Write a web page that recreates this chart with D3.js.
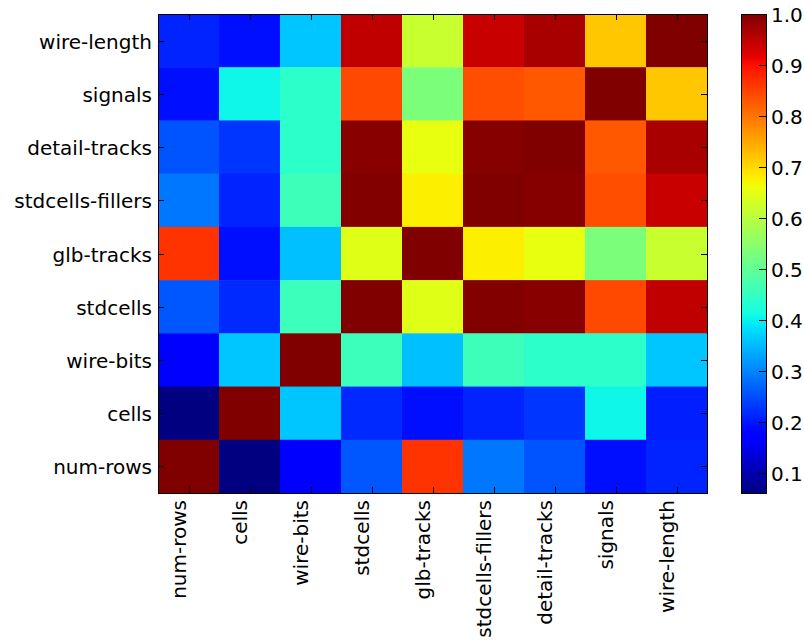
<!DOCTYPE html>
<html><head><meta charset="utf-8">
<script src="https://cdn.jsdelivr.net/npm/d3@7"></script>
<style>body{margin:0;background:#fff}svg{display:block}text{font-family:"DejaVu Sans",sans-serif;fill:#000}</style>
</head><body><svg id="c" width="804" height="640"></svg>
<script>
const xLabels = ["num-rows","cells","wire-bits","stdcells","glb-tracks","stdcells-fillers","detail-tracks","signals","wire-length"];
const yLabels = ["wire-length","signals","detail-tracks","stdcells-fillers","glb-tracks","stdcells","wire-bits","cells","num-rows"];
// correlation values: row order = yLabels (top to bottom), column order = xLabels
const rowWireLength     = [0.21, 0.19, 0.36, 0.948, 0.617, 0.94, 0.967, 0.717, 1.0];
const rowSignals        = [0.19, 0.405, 0.44, 0.844, 0.53, 0.838, 0.828, 1.0, 0.717];
const rowDetailTracks   = [0.255, 0.225, 0.44, 0.992, 0.654, 0.995, 1.0, 0.828, 0.967];
const rowStdcellsFillers= [0.287, 0.21, 0.46, 0.997, 0.677, 1.0, 0.995, 0.838, 0.94];
const rowGlbTracks      = [0.865, 0.19, 0.354, 0.645, 1.0, 0.677, 0.654, 0.53, 0.617];
const rowStdcells       = [0.258, 0.215, 0.457, 1.0, 0.645, 0.997, 0.992, 0.844, 0.948];
const rowWireBits       = [0.17, 0.36, 1.0, 0.457, 0.354, 0.46, 0.44, 0.44, 0.36];
const rowCells          = [0.06, 1.0, 0.36, 0.215, 0.19, 0.21, 0.225, 0.405, 0.205];
const rowNumRows        = [1.0, 0.06, 0.17, 0.258, 0.865, 0.287, 0.255, 0.19, 0.21];
const matrix = [rowWireLength,rowSignals,rowDetailTracks,rowStdcellsFillers,rowGlbTracks,rowStdcells,rowWireBits,rowCells,rowNumRows];
const cbTicks = [0.1,0.2,0.3,0.4,0.5,0.6,0.7,0.8,0.9,1.0];
const vmin = 0.06, vmax = 1.0;

// matplotlib jet
const jr = d3.scaleLinear().domain([0,0.35,0.66,0.89,1]).range([0,0,1,1,0.5]).clamp(true);
const jg = d3.scaleLinear().domain([0,0.125,0.375,0.64,0.91,1]).range([0,0,1,1,0,0]).clamp(true);
const jb = d3.scaleLinear().domain([0,0.11,0.34,0.65,1]).range([0.5,1,1,0,0]).clamp(true);
const norm = d3.scaleLinear().domain([vmin,vmax]).range([0,1]).clamp(true);
function jet(v){const t=norm(v);return d3.rgb(jr(t)*255,jg(t)*255,jb(t)*255).formatHex();}

const svg = d3.select("#c");
const L=158, R=707, T=14, B=493;
const FS=20;
const x = d3.scaleBand().domain(xLabels).range([L,R]);
const y = d3.scaleBand().domain(yLabels).range([T,B]);

const g = svg.append("g");
matrix.forEach((row,i)=>{
  row.forEach((v,j)=>{
    g.append("rect").attr("x",x(xLabels[j])).attr("y",y(yLabels[i]))
      .attr("width",x.bandwidth()+0.5).attr("height",y.bandwidth()+0.5)
      .attr("fill",jet(v));
  });
});

// ticks (inward) on all sides
const tl=6;
xLabels.forEach(c=>{
  const cx=Math.round(x(c)+x.bandwidth()/2)+0.5;
  svg.append("line").attr("x1",cx).attr("x2",cx).attr("y1",B).attr("y2",B-tl).attr("stroke","#000");
  svg.append("line").attr("x1",cx).attr("x2",cx).attr("y1",T).attr("y2",T+tl).attr("stroke","#000");
  svg.append("text").attr("transform",`translate(${cx-4},${B+7}) rotate(-90)`)
    .attr("text-anchor","end").attr("font-size",FS).text(c);
});
yLabels.forEach(c=>{
  const cy=Math.round(y(c)+y.bandwidth()/2)+0.5;
  svg.append("line").attr("x1",L).attr("x2",L+tl).attr("y1",cy).attr("y2",cy).attr("stroke","#000");
  svg.append("line").attr("x1",R).attr("x2",R-tl).attr("y1",cy).attr("y2",cy).attr("stroke","#000");
  svg.append("text").attr("x",L-6).attr("y",cy).attr("dy","0.35em")
    .attr("text-anchor","end").attr("font-size",FS).text(c);
});
svg.append("rect").attr("x",L+0.5).attr("y",T+0.5).attr("width",R-L).attr("height",B-T)
  .attr("fill","none").attr("stroke","#000");

// colorbar
const cbL=741, cbR=766;
const cy = d3.scaleLinear().domain([vmin,vmax]).range([B,T]);
const defs=svg.append("defs");
const grad=defs.append("linearGradient").attr("id","jetg").attr("x1",0).attr("x2",0).attr("y1",1).attr("y2",0);
d3.range(0,1.0001,0.01).forEach(t=>{
  grad.append("stop").attr("offset",t).attr("stop-color",jet(vmin+t*(vmax-vmin)));
});
svg.append("rect").attr("x",cbL).attr("y",T).attr("width",cbR-cbL).attr("height",B-T).attr("fill","url(#jetg)");
svg.append("rect").attr("x",cbL+0.5).attr("y",T+0.5).attr("width",cbR-cbL).attr("height",B-T)
  .attr("fill","none").attr("stroke","#000");
cbTicks.forEach(v=>{
  const yy=Math.round(cy(v))+0.5;
  svg.append("line").attr("x1",cbR).attr("x2",cbR-7).attr("y1",yy).attr("y2",yy).attr("stroke","#000");
  svg.append("text").attr("x",cbR+5).attr("y",yy).attr("dy","0.35em").attr("font-size",FS).text(d3.format(".1f")(v));
});
</script></body></html>
